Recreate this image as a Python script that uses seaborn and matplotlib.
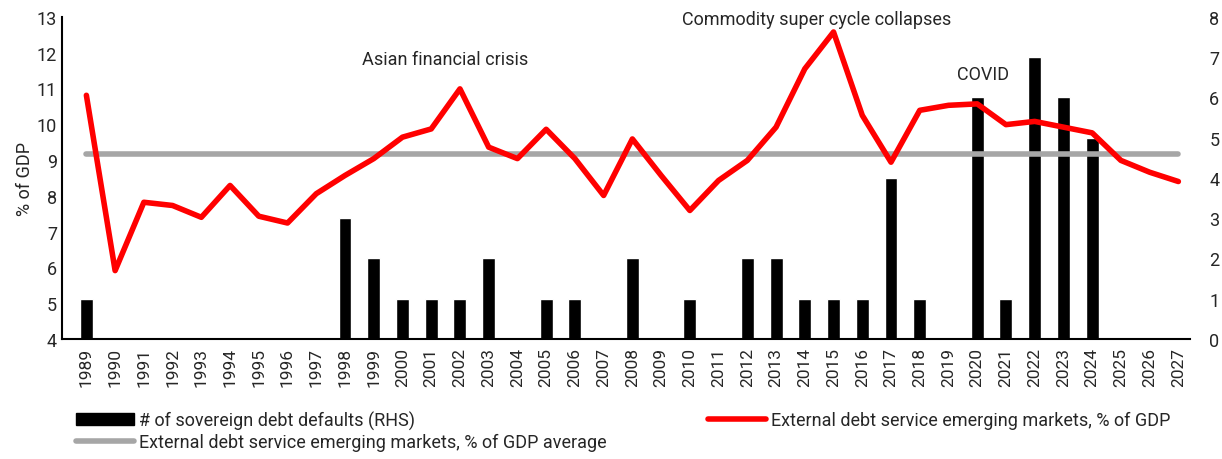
import numpy as np
import pandas as pd
import matplotlib
matplotlib.use("Agg")
import matplotlib.pyplot as plt
import seaborn as sns
from matplotlib.patches import Patch
from matplotlib.lines import Line2D

# data
years = list(range(1989, 2028))
debt_service = [10.81, 5.91, 7.82, 7.73, 7.40, 8.29, 7.43, 7.24, 8.06, 8.57,
                9.04, 9.64, 9.87, 10.99, 9.36, 9.04, 9.86, 9.04, 8.01, 9.59,
                8.57, 7.59, 8.43, 8.99, 9.92, 11.55, 12.58, 10.25, 8.94, 10.39,
                10.53, 10.57, 9.99, 10.08, 9.92, 9.76, 8.99, 8.66, 8.40]
defaults = [1, 0, 0, 0, 0, 0, 0, 0, 0, 3,
            2, 1, 1, 1, 2, 0, 1, 1, 0, 2,
            0, 1, 0, 2, 2, 1, 1, 1, 4, 1,
            0, 6, 1, 7, 6, 5, 0, 0, 0]
average = 9.16

annotations = [("Asian financial crisis", 2001.5, 11.82),
               ("Commodity super cycle collapses", 2014.4, 12.94),
               ("COVID", 2020.2, 11.40)]

df = pd.DataFrame({"year": [str(y) for y in years],
                   "pos": np.arange(len(years)),
                   "debt": debt_service,
                   "defaults": defaults})
df["avg"] = average

sns.set_style("white")
plt.rcParams["font.family"] = ["Roboto", "DejaVu Sans"]

fig = plt.figure(figsize=(12.22, 4.6), dpi=100)
ax = fig.add_axes([0.0507, 0.261, 0.923, 0.700])
ax_r = ax.twinx()

# bars on the right axis, below the lines
sns.barplot(data=df, x="year", y="defaults", color="black", width=0.45,
            saturation=1, ax=ax_r)
ax.set_zorder(ax_r.get_zorder() + 1)
ax.patch.set_visible(False)

sns.lineplot(data=df, x="pos", y="avg", color="#a6a6a6", lw=4, ax=ax)
sns.lineplot(data=df, x="pos", y="debt", color="#ff0000", lw=4, ax=ax)

ax.set_xlim(-0.85, len(years) - 0.6)
ax_r.set_xlim(-0.85, len(years) - 0.6)
ax.set_ylim(4, 13)
ax.set_yticks(range(4, 14))
ax_r.set_ylim(0, 8)
ax_r.set_yticks(range(0, 9))

ax.set_xticks(df["pos"])
ax.set_xticklabels(df["year"], rotation=90)
ax.set_xlabel("")
ax.set_ylabel("% of GDP", fontsize=13, labelpad=2)
ax_r.set_ylabel("")
ax_r.set_xlabel("")

ax.tick_params(axis="both", labelsize=13, length=0)
ax.tick_params(axis="x", labelsize=12.5, pad=6)
ax_r.tick_params(axis="y", labelsize=13, length=0, pad=14)

for sp in ["top", "right"]:
    ax.spines[sp].set_visible(False)
for sp in ax_r.spines.values():
    sp.set_visible(False)
ax.spines["left"].set_color("black")
ax.spines["bottom"].set_color("black")
ax.spines["left"].set_linewidth(1.5)
ax.spines["bottom"].set_linewidth(1.5)

for label, yr, yv in annotations:
    ax.text(yr - years[0], yv, label, ha="center", va="center", fontsize=13)

handles = [Patch(facecolor="black", edgecolor="black",
                 label="# of sovereign debt defaults (RHS)"),
           Line2D([], [], color="#a6a6a6", lw=4,
                  label="External debt service emerging markets, % of GDP average"),
           Line2D([], [], color="#ff0000", lw=4,
                  label="External debt service emerging markets, % of GDP")]
fig.legend(handles=handles, ncol=2, loc="upper left",
           bbox_to_anchor=(0.055, 0.125), frameon=False, fontsize=13,
           handlelength=3.2, handleheight=0.7, handletextpad=0.3,
           columnspacing=5.6, labelspacing=0.2, borderpad=0)

fig.savefig("out.png", dpi=100)
